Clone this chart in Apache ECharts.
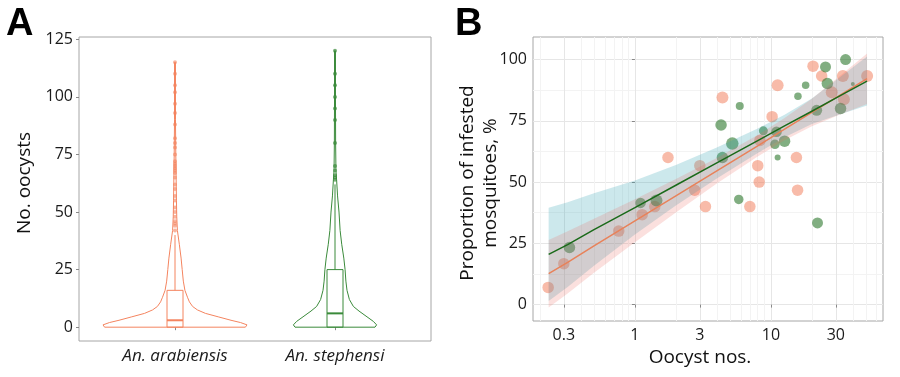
<!DOCTYPE html>
<html>
<head>
<meta charset="utf-8">
<script src="https://cdn.jsdelivr.net/npm/echarts@6/dist/echarts.min.js"></script>
<style>
html, body { margin: 0; padding: 0; background: #fff; }
#chart { width: 900px; height: 377px; }
</style>
</head>
<body>
<div id="chart"></div>
<script>
// ---- panel A : oocyst counts per species ----
var species = ['An. arabiensis', 'An. stephensi'];
var speciesPos = [1, 2];

// violin outline: oocyst value and half width (category units)
var arabViolinY = [0, 1, 2, 3, 4.5, 6, 7.5, 9, 11, 13, 16, 20, 25, 30, 36, 42, 48, 55, 65, 75, 90, 115];
var arabViolinW = [0.44, 0.45, 0.41, 0.35, 0.27, 0.19, 0.14, 0.11, 0.09, 0.078, 0.062, 0.052, 0.045, 0.038, 0.027, 0.015, 0.011, 0.009, 0.007, 0.005, 0.003, 0.003];
var stephViolinY = [0, 1, 2.5, 4.5, 7, 9, 12, 16, 20, 25, 30, 36, 42, 50, 57, 64, 68, 80, 100, 120];
var stephViolinW = [0.25, 0.26, 0.24, 0.2, 0.15, 0.115, 0.09, 0.075, 0.068, 0.063, 0.055, 0.042, 0.032, 0.025, 0.016, 0.01, 0.006, 0.004, 0.003, 0.003];

// box: lower whisker, q1, median, q3, upper whisker
var arabBox = [0, 0, 3, 16, 40];
var stephBox = [0, 0, 6, 25, 62];

var arabOutliers = [42, 44, 45, 46, 48, 50, 52, 55, 57, 60, 62, 65, 67, 68, 69, 70, 71, 72, 75, 78, 80, 82, 88, 93, 97, 102, 105, 110, 115];
var stephOutliers = [64, 65, 66, 68, 70, 80, 90, 95, 100, 105, 110, 120];

var yTicksA = [0, 25, 50, 75, 100, 125];

// ---- panel B : proportion infected vs oocysts (log x) ----
var arabOocyst = [0.23, 0.3, 0.76, 1.13, 1.4, 1.75, 2.75, 3.0, 3.3, 4.4, 7.0, 8.0, 8.2, 8.3, 10.2, 11.2, 15.4, 15.7, 20.4, 23.6, 28, 33.8, 34.4, 51];
var arabProp = [7, 16.7, 30, 36.7, 40, 60, 46.7, 56.7, 40, 84.5, 40, 56.7, 50, 67, 76.7, 89.5, 60, 46.7, 97.3, 93.3, 86.7, 93.3, 83.8, 93.3];
var arabSize = [11.5, 11.5, 11.5, 11.5, 11.5, 11.5, 11.5, 11.5, 11.5, 12, 11.5, 11.5, 11.5, 11.5, 11.5, 12, 11.5, 11.5, 11.5, 11.5, 12, 12, 12, 12];

var stephOocyst = [0.33, 1.1, 1.44, 4.3, 4.4, 5.2, 5.8, 5.9, 8.8, 10.7, 11, 11.2, 12.6, 15.8, 18, 21.7, 22, 25.2, 26, 32.5, 35.4, 40];
var stephProp = [23.3, 41.5, 42.5, 73.3, 60, 65.7, 42.9, 81, 70.9, 65.4, 70.5, 60, 66.7, 85, 89.5, 79.3, 33.3, 97, 90.2, 80, 100, 90];
var stephSize = [11.5, 10.5, 12, 11.5, 11.5, 12.5, 9.5, 8, 9, 9.5, 10.5, 6, 11.5, 7.5, 7.5, 11, 11, 11, 11.5, 11.5, 11, 4];

// fitted lines and confidence bands, read at these oocyst values
var fitX = [0.232, 0.32, 0.5, 1, 2, 4, 8, 12.6, 20, 31.6, 50.9];
var arabFit = [12.6, 17.2, 24.0, 34.2, 44.4, 54.6, 64.8, 71.6, 78.4, 85.2, 92.2];
var arabLow = [-1.2, 4.5, 13.0, 25.4, 37.6, 49.4, 60.4, 67.1, 72.8, 77.4, 81.9];
var arabHigh = [26.4, 29.9, 35.0, 43.0, 51.2, 59.8, 69.2, 76.1, 84.0, 93.0, 102.5];
var stephFit = [20.5, 24.5, 30.6, 39.6, 48.7, 57.8, 66.9, 72.9, 78.9, 85.0, 91.2];
var stephLow = [1.5, 7.2, 15.8, 28.6, 40.4, 51.5, 61.9, 68.3, 73.7, 77.5, 81.2];
var stephHigh = [39.5, 41.8, 45.4, 50.6, 57.0, 64.1, 71.9, 77.5, 84.1, 92.5, 101.2];

var xTicksB = [0.3, 1, 3, 10, 30];
var xMinorB = [0.2, 0.4, 0.5, 0.6, 0.7, 0.8, 0.9, 2, 4, 5, 6, 7, 8, 9, 20, 40, 50, 60];
var yTicksB = [0, 25, 50, 75, 100];
var yMinorB = [12.5, 37.5, 62.5, 87.5];

var orange = '#F4845F';
var green = '#3A8A3A';
var font = 'Open Sans';
var lg = Math.log10;

var violins = [[arabViolinY, arabViolinW], [stephViolinY, stephViolinW]];
var boxes = [arabBox, stephBox];
var colorsA = [orange, green];

function renderViolin(params, api) {
    var k = params.dataIndex;
    var ys = violins[k][0], ws = violins[k][1], c = speciesPos[k];
    var pts = [];
    for (var i = 0; i < ys.length; i++) pts.push(api.coord([c + ws[i], ys[i]]));
    for (var j = ys.length - 1; j >= 0; j--) pts.push(api.coord([c - ws[j], ys[j]]));
    return {
        type: 'polygon',
        shape: { points: pts },
        style: { fill: 'none', stroke: colorsA[k], lineWidth: 1 }
    };
}

function renderBox(params, api) {
    var k = params.dataIndex, s = boxes[k], c = speciesPos[k], hw = 0.05, col = colorsA[k];
    var tl = api.coord([c - hw, s[3]]), br = api.coord([c + hw, s[1]]);
    var m1 = api.coord([c - hw, s[2]]), m2 = api.coord([c + hw, s[2]]);
    var w1 = api.coord([c, s[3]]), w2 = api.coord([c, s[4]]);
    return {
        type: 'group',
        children: [
            { type: 'rect', shape: { x: tl[0], y: tl[1], width: br[0] - tl[0], height: br[1] - tl[1] },
              style: { fill: 'none', stroke: col, lineWidth: 1 } },
            { type: 'line', shape: { x1: m1[0], y1: m1[1], x2: m2[0], y2: m2[1] },
              style: { stroke: col, lineWidth: 2 } },
            { type: 'line', shape: { x1: w1[0], y1: w1[1], x2: w2[0], y2: w2[1] },
              style: { stroke: col, lineWidth: 1 } }
        ]
    };
}

function bandSeries(low, high, fill) {
    return {
        type: 'custom',
        xAxisIndex: 1, yAxisIndex: 1,
        data: fitX.map(function (x, i) { return [lg(x), low[i], high[i]]; }),
        encode: { x: 0, y: [1, 2] },
        silent: true,
        z: 3,
        renderItem: function (params, api) {
            if (params.dataIndex !== 0) return { type: 'group', children: [] };
            var pts = [];
            for (var i = 0; i < fitX.length; i++) pts.push(api.coord([lg(fitX[i]), high[i]]));
            for (var j = fitX.length - 1; j >= 0; j--) pts.push(api.coord([lg(fitX[j]), low[j]]));
            return { type: 'polygon', shape: { points: pts }, style: { fill: fill, stroke: 'none' } };
        }
    };
}

function xLabelB(v) {
    for (var i = 0; i < xTicksB.length; i++) {
        if (Math.abs(lg(xTicksB[i]) - v) < 1e-6) return String(xTicksB[i]);
    }
    return '';
}

var labelStyle = { fontFamily: font, fontSize: 16, color: '#1a1a1a' };

var chart = echarts.init(document.getElementById('chart'));
chart.setOption({
    animation: false,
    textStyle: { fontFamily: font },
    grid: [
        { left: 79, top: 37, width: 352, height: 304, show: true, borderColor: '#a6a6a6', borderWidth: 1, backgroundColor: 'transparent' },
        { left: 533, top: 37, width: 350, height: 284, show: true, borderColor: '#a6a6a6', borderWidth: 1, backgroundColor: 'transparent' }
    ],
    xAxis: [
        {
            gridIndex: 0, type: 'value', min: 0.4, max: 2.6,
            axisLine: { show: false },
            splitLine: { show: false },
            axisTick: { show: true, length: 3, customValues: speciesPos, lineStyle: { color: '#888' } },
            axisLabel: Object.assign({}, labelStyle, {
                fontStyle: 'italic', fontSize: 17, margin: 7, customValues: speciesPos,
                formatter: function (v) { return species[speciesPos.indexOf(v)] || ''; }
            })
        },
        {
            gridIndex: 1, type: 'value', min: lg(0.178), max: lg(66.7),
            axisLine: { show: false },
            splitLine: { show: true, lineStyle: { color: '#e6e6e6', width: 1 } },
            axisTick: { show: true, length: 3, customValues: xTicksB.map(lg), lineStyle: { color: '#888' } },
            axisLabel: Object.assign({}, labelStyle, { margin: 6, customValues: xTicksB.map(lg), formatter: xLabelB })
        },
        {
            gridIndex: 1, type: 'value', min: lg(0.178), max: lg(66.7),
            axisLine: { show: false },
            splitLine: { show: true, lineStyle: { color: '#f3f3f3', width: 1 } },
            axisTick: { show: false, customValues: xMinorB.map(lg) },
            axisLabel: { show: false, customValues: xMinorB.map(lg) }
        }
    ],
    yAxis: [
        {
            gridIndex: 0, type: 'value', min: -6, max: 126,
            axisLine: { show: false },
            splitLine: { show: false },
            axisTick: { show: true, length: 3, customValues: yTicksA, lineStyle: { color: '#888' } },
            axisLabel: Object.assign({}, labelStyle, { margin: 6, customValues: yTicksA })
        },
        {
            gridIndex: 1, type: 'value', min: -6.7, max: 109.2,
            axisLine: { show: false },
            splitLine: { show: true, lineStyle: { color: '#e6e6e6', width: 1 } },
            axisTick: { show: true, length: 3, customValues: yTicksB, lineStyle: { color: '#888' } },
            axisLabel: Object.assign({}, labelStyle, { margin: 6, customValues: yTicksB })
        },
        {
            gridIndex: 1, type: 'value', min: -6.7, max: 109.2,
            axisLine: { show: false },
            splitLine: { show: true, lineStyle: { color: '#f3f3f3', width: 1 } },
            axisTick: { show: false, customValues: yMinorB },
            axisLabel: { show: false, customValues: yMinorB }
        }
    ],
    graphic: [
        { type: 'text', left: 6, top: 6, style: { text: 'A', font: 'bold 38px "Liberation Sans"', fill: '#000' } },
        { type: 'text', left: 455, top: 6, style: { text: 'B', font: 'bold 38px "Liberation Sans"', fill: '#000' } },
        { type: 'text', x: 25, y: 183, rotation: Math.PI / 2,
          style: { text: 'No. oocysts', font: '19px "Open Sans"', fill: '#111', align: 'center', verticalAlign: 'middle' } },
        { type: 'text', x: 479, y: 183, rotation: Math.PI / 2,
          style: { text: 'Proportion of infested\nmosquitoes, %', font: '19px "Open Sans"', lineHeight: 23, fill: '#111', align: 'center', verticalAlign: 'middle' } },
        { type: 'text', x: 700, y: 358,
          style: { text: 'Oocyst nos.', font: '19px "Open Sans"', fill: '#111', align: 'center', verticalAlign: 'middle' } }
    ],
    series: [
        {
            type: 'custom', xAxisIndex: 0, yAxisIndex: 0, z: 2, silent: true,
            data: speciesPos.map(function (c) { return [c, 0]; }),
            renderItem: renderViolin
        },
        {
            type: 'custom', xAxisIndex: 0, yAxisIndex: 0, z: 3, silent: true,
            data: speciesPos.map(function (c) { return [c, 0]; }),
            renderItem: renderBox
        },
        {
            type: 'scatter', xAxisIndex: 0, yAxisIndex: 0, z: 4, symbolSize: 4,
            data: arabOutliers.map(function (v) { return [speciesPos[0], v]; }),
            itemStyle: { color: orange, opacity: 0.6 }
        },
        {
            type: 'scatter', xAxisIndex: 0, yAxisIndex: 0, z: 4, symbolSize: 4,
            data: stephOutliers.map(function (v) { return [speciesPos[1], v]; }),
            itemStyle: { color: green, opacity: 0.7 }
        },
        {
            type: 'scatter', xAxisIndex: 1, yAxisIndex: 1, z: 2,
            data: arabOocyst.map(function (x, i) { return [lg(x), arabProp[i], arabSize[i]]; }),
            symbolSize: function (v) { return v[2]; },
            itemStyle: { color: 'rgba(240,118,80,0.62)' }
        },
        {
            type: 'scatter', xAxisIndex: 1, yAxisIndex: 1, z: 2,
            data: stephOocyst.map(function (x, i) { return [lg(x), stephProp[i], stephSize[i]]; }),
            symbolSize: function (v) { return v[2]; },
            itemStyle: { color: 'rgba(30,110,30,0.7)' }
        },
        bandSeries(stephLow, stephHigh, 'rgba(50,165,180,0.25)'),
        bandSeries(arabLow, arabHigh, 'rgba(235,100,90,0.2)'),
        {
            type: 'line', xAxisIndex: 1, yAxisIndex: 1, z: 5, symbol: 'none',
            data: fitX.map(function (x, i) { return [lg(x), arabFit[i]]; }),
            lineStyle: { color: '#E8825A', width: 1.5 }
        },
        {
            type: 'line', xAxisIndex: 1, yAxisIndex: 1, z: 5, symbol: 'none',
            data: fitX.map(function (x, i) { return [lg(x), stephFit[i]]; }),
            lineStyle: { color: '#1A6A1A', width: 1.5 }
        }
    ]
});
</script>
</body>
</html>
